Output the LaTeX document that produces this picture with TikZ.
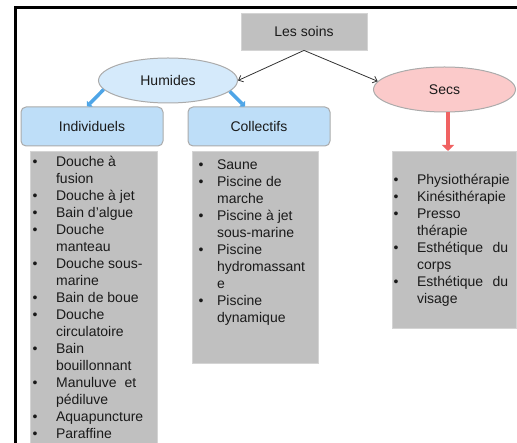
\documentclass[tikz,border=0pt]{standalone}
\usepackage{fontspec}
\setmainfont{Liberation Sans}
\usetikzlibrary{arrows.meta,shapes.geometric}
\definecolor{soinsgray}{HTML}{C0C0C0}
\definecolor{soinsline}{HTML}{D4D4D4}
\definecolor{humfill}{HTML}{D5EAFB}
\definecolor{secfill}{HTML}{FBCACA}
\definecolor{ellline}{HTML}{ABABAB}
\definecolor{subfill}{HTML}{BEDEF8}
\definecolor{arrblue}{HTML}{4EA5E7}
\definecolor{arrred}{HTML}{F06262}
\definecolor{txt}{HTML}{1A1A1A}
\tikzset{
  soinsbox/.style={draw=soinsline, fill=soinsgray, line width=0.8pt, inner sep=0pt, text=txt},
  ellbox/.style={ellipse, draw=ellline, line width=1pt, inner sep=0pt, minimum width=139pt, minimum height=45pt, text=txt},
  subbox/.style={draw=ellline, fill=subfill, rounded corners=5pt, line width=1pt, inner sep=0pt, minimum width=142pt, minimum height=39pt, text=txt},
  listbox/.style={draw=soinsline, fill=soinsgray, line width=0.6pt, inner sep=0pt, anchor=north west},
  listtext/.style={inner sep=0pt, anchor=base west, text=txt},
  blackarrow/.style={draw=black!80, line width=0.8pt, -{Straight Barb[length=4pt,width=7pt]}},
  bluearrow/.style={draw=arrblue, line width=3.5pt, -{Triangle[width=8pt,length=4pt]}},
  redarrow/.style={draw=arrred, line width=4.5pt, -{Triangle[width=12pt,length=6pt]}},
}
\begin{document}
\begin{tikzpicture}[x=1pt,y=-1pt,font=\fontsize{14}{17}\selectfont]
\useasboundingbox (0,0) rectangle (517,443);
% frame
\draw[line width=3.3pt] (15.5,445) -- (15.5,7.5) -- (518,7.5);
% headers
\node[soinsbox, minimum width=126pt, minimum height=37pt] (soins) at (304,31.5) {Les soins};
\node[ellbox, fill=humfill] (hum) at (168,80.5) {Humides};
\node[ellbox, fill=secfill, minimum width=142pt] (secs) at (444.5,89.5) {Secs};
\node[subbox] (ind) at (92,126.5) {Individuels};
\node[subbox] (col) at (259,126.5) {Collectifs};
% list boxes
\node[listbox, minimum width=127pt, minimum height=300pt] (indlist) at (30,151) {};
\node[listbox, minimum width=126pt, minimum height=212pt] (collist) at (192,151) {};
\node[listbox, minimum width=124pt, minimum height=177pt] (seclist) at (392,151) {};
% list texts
\node[listtext] (indtext) at (32.5,167) {\begin{tabular}[t]{@{}c@{\hspace{18.5pt}}l@{}}
•& Douche à\\
 & fusion\\
•& Douche à jet\\
•& Bain d’algue\\
•& Douche\\
 & manteau\\
•& Douche sous-\\
 & marine\\
•& Bain de boue\\
•& Douche\\
 & circulatoire\\
•& Bain\\
 & bouillonnant\\
•& Manuluve\ \ et\\
 & pédiluve\\
•& Aquapuncture\\
•& Paraffine
\end{tabular}};
\node[listtext] (coltext) at (198.5,170) {\begin{tabular}[t]{@{}c@{\hspace{13.5pt}}l@{}}
•& Saune\\
•& Piscine de\\
 & marche\\
•& Piscine à jet\\
 & sous-marine\\
•& Piscine\\
 & hydromassant\\
 & e\\
•& Piscine\\
 & dynamique
\end{tabular}};
\node[listtext] (sectext) at (393.5,185) {\begin{tabular}[t]{@{}c@{\hspace{18.5pt}}l@{}}
•& Physiothérapie\\
•& Kinésithérapie\\
•& Presso\\
 & thérapie\\
•& \makebox[91pt][s]{Esthétique du}\\
 & corps\\
•& \makebox[91pt][s]{Esthétique du}\\
 & visage
\end{tabular}};
% connectors
\draw[blackarrow] (soins.south) -- (hum.east);
\draw[blackarrow] (soins.south) -- (secs.173);
\draw[bluearrow] (hum.188) -- ([xshift=-5pt]ind.north);
\draw[bluearrow] (hum.350) -- ([xshift=-14pt]col.north);
\draw[redarrow] ([xshift=3.5pt]secs.south) -- ([xshift=3.5pt]secs.south |- seclist.north);
\end{tikzpicture}
\end{document}
